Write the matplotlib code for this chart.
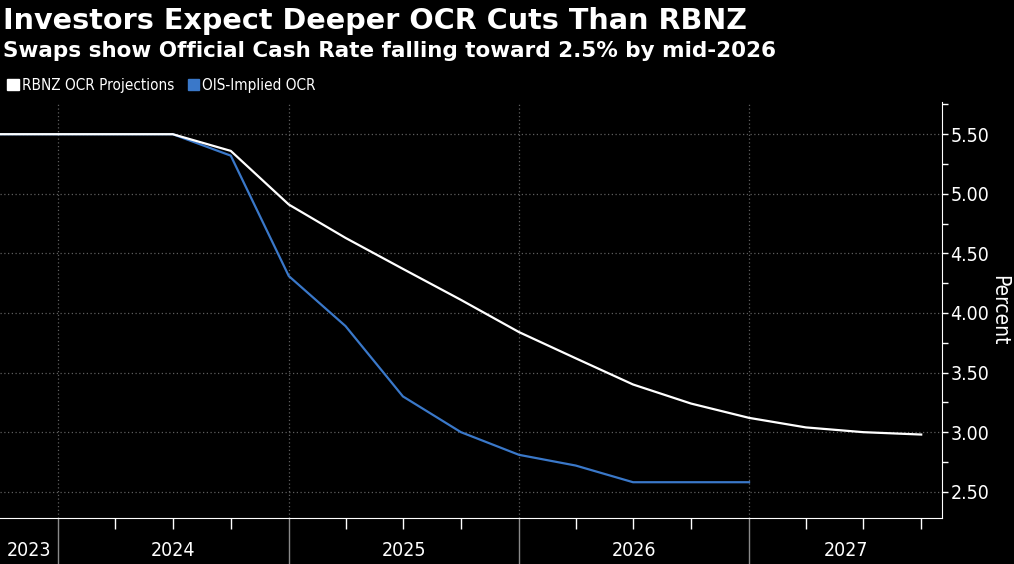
import matplotlib
matplotlib.use('Agg')
import matplotlib.pyplot as plt
from matplotlib.patches import Patch
from matplotlib.font_manager import FontProperties
import pandas as pd

# 데이터 (분기별)
rbnz_dates = pd.to_datetime([
    '2023-10-01', '2024-01-01', '2024-04-01', '2024-07-01', '2024-10-01',
    '2025-01-01', '2025-04-01', '2025-07-01', '2025-10-01', '2026-01-01',
    '2026-04-01', '2026-07-01', '2026-10-01', '2027-01-01', '2027-04-01',
    '2027-07-01', '2027-10-01',
])
rbnz_ocr = [5.50, 5.50, 5.50, 5.50, 5.36, 4.91, 4.63, 4.37, 4.11, 3.84,
            3.62, 3.40, 3.24, 3.12, 3.04, 3.00, 2.98]

ois_dates = rbnz_dates[:14]
ois_ocr = [5.50, 5.50, 5.50, 5.50, 5.32, 4.31, 3.89, 3.30, 3.00, 2.81,
           2.72, 2.58, 2.58, 2.58]

years = [2023, 2024, 2025, 2026, 2027]
y_ticks = [5.50, 5.00, 4.50, 4.00, 3.50, 3.00, 2.50]

BG = '#000000'
FG = '#ffffff'
BLUE = '#3a78c9'
GRID = '#5e5e5e'


def narrow(size):
    # 좁은 글꼴 (DejaVu Sans Condensed)
    return FontProperties(family='DejaVu Sans', stretch='condensed', size=size)


fig = plt.figure(figsize=(10.14, 5.64), dpi=100, facecolor=BG)
ax = fig.add_axes([0.0, 0.0816, 0.929, 0.7375], facecolor=BG)

ax.plot(rbnz_dates, rbnz_ocr, color=FG, linewidth=1.6, zorder=3)
ax.plot(ois_dates, ois_ocr, color=BLUE, linewidth=1.6, zorder=2)

x0 = pd.Timestamp('2023-10-01')
x1 = pd.Timestamp('2027-11-03')
ax.set_xlim(x0, x1)
ax.set_ylim(2.28, 5.77)

# 스파인
for s in ['top', 'left']:
    ax.spines[s].set_visible(False)
ax.spines['bottom'].set_color(FG)
ax.spines['right'].set_color(FG)

# y축 (오른쪽)
ax.yaxis.tick_right()
ax.yaxis.set_label_position('right')
ax.set_yticks(y_ticks)
ax.set_yticklabels([f'{v:.2f}' for v in y_ticks], fontproperties=narrow(14))
ax.set_yticks([5.75, 5.25, 4.75, 4.25, 3.75, 3.25, 2.75], minor=True)
ax.tick_params(axis='y', which='major', colors=FG, length=4, width=1, pad=2)
ax.tick_params(axis='y', which='minor', colors=FG, length=4, width=1)
ax.set_ylabel('Percent', color=FG, fontproperties=narrow(15), rotation=-90, labelpad=14)

# x축: 연도 구분선 + 분기 눈금
year_starts = pd.to_datetime([f'{y}-01-01' for y in years[1:]])
ax.set_xticks(year_starts)
ax.set_xticklabels([])
quarters = pd.date_range('2024-01-01', '2027-10-01', freq='QS')
ax.set_xticks([q for q in quarters if q.month != 1], minor=True)
ax.tick_params(axis='x', which='major', colors='#8a8a8a', length=44, width=1)
ax.tick_params(axis='x', which='minor', colors=FG, length=8, width=1)

# 연도 라벨 (보이는 구간의 중앙)
for y in years:
    a = max(pd.Timestamp(f'{y}-01-01'), x0)
    b = min(pd.Timestamp(f'{y + 1}-01-01'), x1)
    mid = a + (b - a) / 2
    ax.text(mid, -0.078, str(y), transform=ax.get_xaxis_transform(),
            ha='center', va='center', color=FG, fontproperties=narrow(14))

# 그리드
ax.grid(True, which='major', color=GRID, linestyle=(0, (1, 2)), linewidth=0.9)
ax.set_axisbelow(True)

# 제목
fig.text(0.003, 0.963, 'Investors Expect Deeper OCR Cuts Than RBNZ', color=FG,
         fontsize=20.6, fontweight='bold', va='center', ha='left')
fig.text(0.003, 0.909, 'Swaps show Official Cash Rate falling toward 2.5% by mid-2026',
         color=FG, fontsize=15.5, fontweight='bold', va='center', ha='left')

# 범례
handles = [Patch(color=FG, label='RBNZ OCR Projections'),
           Patch(color=BLUE, label='OIS-Implied OCR')]
leg = fig.legend(handles=handles, loc='center left', bbox_to_anchor=(0.001, 0.848),
                 ncol=2, frameon=False, handlelength=0.75, handleheight=0.75,
                 handletextpad=0.2, columnspacing=0.9, borderaxespad=0.0,
                 prop=narrow(11))
for t in leg.get_texts():
    t.set_color(FG)

fig.savefig('out.png', dpi=100, facecolor=BG)
